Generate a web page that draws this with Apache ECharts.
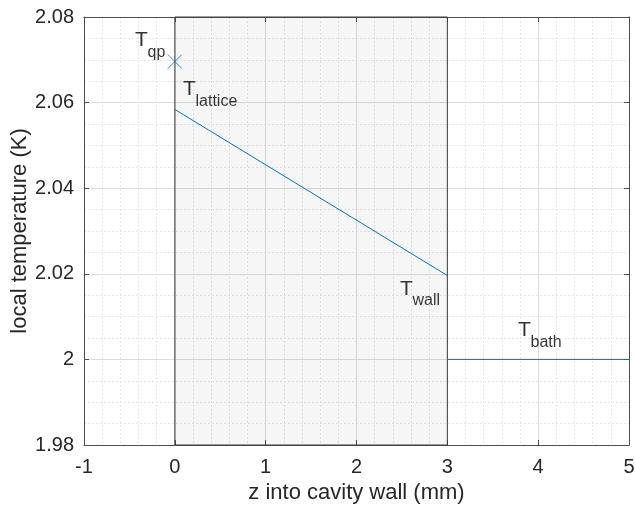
<!DOCTYPE html>
<html><head><meta charset="utf-8">
<script src="https://cdn.jsdelivr.net/npm/echarts@6/dist/echarts.min.js"></script>
<style>html,body{margin:0;padding:0;background:#fff}#c{width:635px;height:506px}</style>
</head><body><div id="c"></div>
<script>
// data
const latticeLine = [[0, 2.0584], [3, 2.0196]];
const bathLine = [[3, 2.0], [5, 2.0]];
const qpPoint = [[0, 2.0696]];
const wallRegion = [0, 3];
const labelNames = ['qp', 'lattice', 'wall', 'bath'];
const labelX = [-0.4385, 0.090, 2.479, 3.778];
const labelY = [2.07451, 2.06306, 2.01645, 2.00675];
const xTicks = [-1, 0, 1, 2, 3, 4, 5];
const yTicks = [1.98, 2.0, 2.02, 2.04, 2.06, 2.08];

const font = 'Liberation Sans, Arial, Helvetica, sans-serif';
const textColor = '#262626';
const axisColor = '#4d4d4d';
const blue = '#0072BD';

const labelData = labelNames.map((n, i) => ({ name: n, value: [labelX[i], labelY[i]] }));

const chart = echarts.init(document.getElementById('c'), null, { renderer: 'canvas' });
const baseX = {
  type: 'value', min: xTicks[0], max: xTicks[xTicks.length - 1], interval: 1
};
const baseY = {
  type: 'value', min: yTicks[0], max: yTicks[yTicks.length - 1], interval: 0.02
};
chart.setOption({
  animation: false,
  grid: { left: 84, right: 6, top: 17, bottom: 61, containLabel: false, outerBoundsMode: 'none' },
  xAxis: [
    Object.assign({}, baseX, {
      position: 'bottom',
      name: 'z into cavity wall (mm)', nameLocation: 'middle', nameGap: 37,
      nameTextStyle: { fontFamily: font, fontSize: 22, color: textColor },
      axisLine: { show: true, onZero: false, lineStyle: { color: axisColor, width: 1 } },
      axisTick: { show: true, inside: true, length: 5, lineStyle: { color: axisColor } },
      axisLabel: { fontFamily: font, fontSize: 20, color: textColor, margin: 12 },
      splitLine: { show: true, lineStyle: { color: '#dcdcdc', width: 1 } },
      minorTick: { show: false, splitNumber: 5 },
      minorSplitLine: { show: true, lineStyle: { color: '#e6e6e6', width: 1, type: [2, 2] } }
    }),
    Object.assign({}, baseX, {
      position: 'top',
      axisLine: { show: true, onZero: false, lineStyle: { color: axisColor, width: 1 } },
      axisTick: { show: true, inside: true, length: 5, lineStyle: { color: axisColor } },
      axisLabel: { show: false },
      splitLine: { show: false }
    })
  ],
  yAxis: [
    Object.assign({}, baseY, {
      position: 'left',
      name: 'local temperature (K)', nameLocation: 'middle', nameGap: 53, nameMoveOverlap: false,
      nameTextStyle: { fontFamily: font, fontSize: 22, color: textColor },
      axisLine: { show: true, onZero: false, lineStyle: { color: axisColor, width: 1 } },
      axisTick: { show: true, inside: true, length: 5, lineStyle: { color: axisColor } },
      axisLabel: {
        fontFamily: font, fontSize: 20, color: textColor, margin: 10,
        formatter: v => String(parseFloat(v.toFixed(2)))
      },
      splitLine: { show: true, lineStyle: { color: '#dcdcdc', width: 1 } },
      minorTick: { show: false, splitNumber: 4 },
      minorSplitLine: { show: true, lineStyle: { color: '#e6e6e6', width: 1, type: [2, 2] } }
    }),
    Object.assign({}, baseY, {
      position: 'right',
      axisLine: { show: true, onZero: false, lineStyle: { color: axisColor, width: 1 } },
      axisTick: { show: true, inside: true, length: 5, lineStyle: { color: axisColor } },
      axisLabel: { show: false },
      splitLine: { show: false }
    })
  ],
  series: [
    {
      type: 'line', name: 'lattice', data: latticeLine, showSymbol: false, symbol: 'none',
      lineStyle: { color: blue, width: 1 }, z: 3,
      markArea: {
        silent: true,
        itemStyle: { color: 'rgba(0,0,0,0.035)', borderColor: '#3c3c3c', borderWidth: 1 },
        data: [[{ xAxis: wallRegion[0] }, { xAxis: wallRegion[1] }]]
      }
    },
    {
      type: 'line', name: 'bath', data: bathLine, showSymbol: false, symbol: 'none',
      lineStyle: { color: blue, width: 1 }, z: 3
    },
    {
      type: 'scatter', name: 'qp', data: qpPoint,
      symbol: 'path://M0,0L10,10M10,0L0,10', symbolSize: 14,
      itemStyle: { color: 'none', borderColor: blue, borderWidth: 1 }, z: 4
    },
    {
      type: 'scatter', name: 'Tlabels', data: labelData, symbolSize: 0, silent: true,
      label: {
        show: true, position: [0, 0], align: 'left', verticalAlign: 'middle',
        formatter: 'T', fontFamily: font, fontSize: 21, color: '#000'
      }
    },
    {
      type: 'scatter', name: 'subLabels', data: labelData, symbolSize: 0, silent: true,
      label: {
        show: true, position: [0, 0], offset: [12.5, 12], align: 'left', verticalAlign: 'middle',
        formatter: p => p.name, fontFamily: font, fontSize: 16, color: '#000'
      }
    }
  ]
});
</script></body></html>
